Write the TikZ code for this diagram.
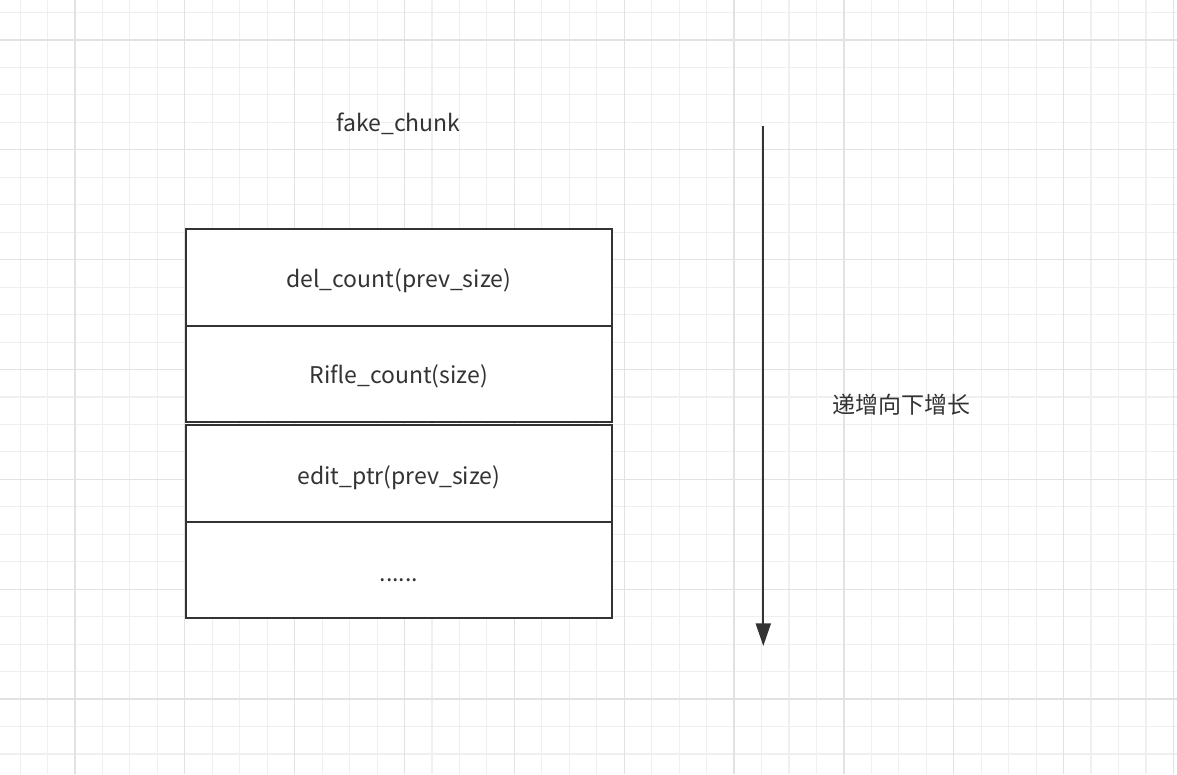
\documentclass[tikz,border=0pt]{standalone}
\usepackage{fontspec}
\setmainfont{Noto Sans CJK SC}
\usetikzlibrary{arrows.meta}
\definecolor{ink}{HTML}{333333}
\definecolor{minorgrid}{HTML}{EFEFEF}
\definecolor{majorgrid}{HTML}{E2E2E2}
\tikzset{
  cell/.style={draw=ink, line width=2pt, fill=white, minimum width=425.7pt, minimum height=96.5pt, inner sep=0pt},
  lbl/.style={font=\fontsize{23}{27}\selectfont, text=ink, inner sep=0pt, anchor=base},
  flow/.style={draw=ink, line width=2pt, -{Triangle[length=22.7pt,width=15pt]}}
}
\begin{document}
\begin{tikzpicture}[x=1pt,y=-1pt]
\useasboundingbox (0,0) rectangle (1177,774);
\fill[white] (0,0) rectangle (1177,774);
% grid
\foreach \k in {-3,...,41} {
  \pgfmathsetmacro{\gx}{75+\k*27.46}
  \draw[minorgrid, line width=1.1pt] (\gx,0) -- (\gx,774);
}
\foreach \k in {-1,...,27} {
  \pgfmathsetmacro{\gy}{40+\k*27.46}
  \draw[minorgrid, line width=1.1pt] (0,\gy) -- (1177,\gy);
}
\foreach \k in {0,...,10} {
  \pgfmathsetmacro{\gx}{75+\k*109.84}
  \draw[majorgrid, line width=1.3pt] (\gx,0) -- (\gx,774);
}
\foreach \k in {0,...,6} {
  \pgfmathsetmacro{\gy}{40+\k*109.84}
  \draw[majorgrid, line width=1.3pt] (0,\gy) -- (1177,\gy);
}
% title
\node[lbl] (title) at (398.5,131) {fake\_chunk};
% boxes
\node[cell] (c1) at (398.8,277.5) {};
\node[cell] (c2) at (398.8,373.8) {};
\node[cell] (c3) at (398.8,473.3) {};
\node[cell] (c4) at (398.8,570.2) {};
\node[lbl] (t1) at (398.8,287.3) {del\_count(prev\_size)};
\node[lbl] (t2) at (398.8,383.3) {Rifle\_count(size)};
\node[lbl] (t3) at (398.8,484) {edit\_ptr(prev\_size)};
\node[lbl] (t4) at (398.8,581.7) {......};
% arrow
\coordinate (top) at (763.3,126);
\coordinate (tip) at (763.3,646);
\draw[flow] (top) -- (tip);
\node[lbl] (note) at (901,413) {递增向下增长};
\end{tikzpicture}
\end{document}
